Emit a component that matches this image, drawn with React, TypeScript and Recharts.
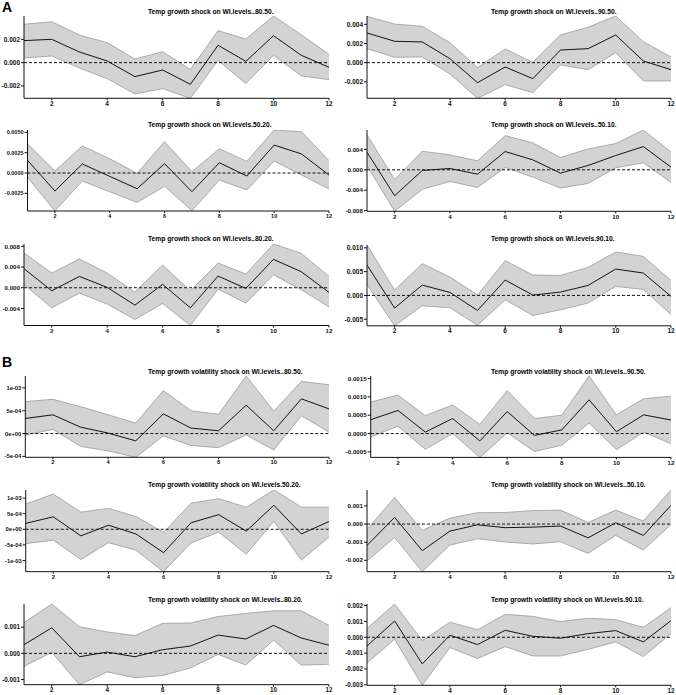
import { Area, ComposedChart, Line, ReferenceLine, XAxis, YAxis } from "recharts";

const steps = [1, 2, 3, 4, 5, 6, 7, 8, 9, 10, 11, 12];
const xTicks = [2, 4, 6, 8, 10, 12];

// A: temp growth shock
const a8050Mean = [0.00189, 0.002, 0.00091, 0.00014, -0.0012, -0.00063, -0.00186, 0.00149, 0.00011, 0.00231, 0.00063, -0.0004];
const a8050Upper = [0.00329, 0.00351, 0.00237, 0.00171, 0.00031, 0.00094, -0.0006, 0.00274, 0.00203, 0.004, 0.0024, 0.00071];
const a8050Lower = [0.0004, 0.00057, -0.00046, -0.00137, -0.00269, -0.00223, -0.00306, 0.0002, -0.0018, 0.00063, -0.00114, -0.00146];

const a9050Mean = [0.0031, 0.00223, 0.00216, 0.00042, -0.00209, -0.00045, -0.00167, 0.00132, 0.00146, 0.00289, 0.00017, -0.00073];
const a9050Upper = [0.00483, 0.00403, 0.00379, 0.00209, -0.00052, 0.00143, 0.00003, 0.00289, 0.00369, 0.00487, 0.00219, 0.00059];
const a9050Lower = [0.00146, 0.00056, 0.00059, -0.00118, -0.00372, -0.0023, -0.00313, -0.00024, -0.00073, 0.00104, -0.00191, -0.00191];

const a5020Mean = [0.00156, -0.00221, 0.00111, -0.00041, -0.00193, 0.00115, -0.0023, 0.00127, -0.00037, 0.00344, 0.00234, -0.00025];
const a5020Upper = [0.0036, 0.00025, 0.00332, 0.00176, -0.00004, 0.00385, 0.00016, 0.00299, 0.00143, 0.00529, 0.00508, 0.00152];
const a5020Lower = [-0.00053, -0.00467, -0.00098, -0.0023, -0.00361, -0.00164, -0.00463, -0.00086, -0.00209, 0.00148, -0.00025, -0.00197];

const a5010Mean = [0.00345, -0.00507, -0.00013, 0.00026, -0.00085, 0.00358, 0.00195, -0.00065, 0.00085, 0.0028, 0.00455, 0.00052];
const a5010Upper = [0.00683, -0.00189, 0.00364, 0.00293, 0.00176, 0.0067, 0.00527, 0.00241, 0.0041, 0.00514, 0.0078, 0.00351];
const a5010Lower = [0.00085, -0.00813, -0.00384, -0.00228, -0.00345, 0.00046, -0.00143, -0.00358, -0.00267, 0.00039, 0.00137, -0.00247];

const a8020Mean = [0.00368, -0.00058, 0.00219, 0.00006, -0.00335, 0.00065, -0.00387, 0.00226, -0.00013, 0.00548, 0.0031, -0.0009];
const a8020Upper = [0.00671, 0.00284, 0.00555, 0.00284, -0.00084, 0.00439, -0.00058, 0.00477, 0.00265, 0.00845, 0.00665, 0.00219];
const a8020Lower = [0.00065, -0.00387, -0.00103, -0.00316, -0.00613, -0.00303, -0.00729, -0.00026, -0.00297, 0.00252, -0.00039, -0.00368];

const a9010Mean = [0.00638, -0.00266, 0.00217, 0.00063, -0.00316, 0.00323, 0.00007, 0.0007, 0.0021, 0.00554, 0.0047, -0.00021];
const a9010Upper = [0.01059, 0.00112, 0.00666, 0.00386, 0.00007, 0.00729, 0.00428, 0.00421, 0.00589, 0.00912, 0.0082, 0.00316];
const a9010Lower = [0.00231, -0.00638, -0.00217, -0.00259, -0.00624, -0.00091, -0.00421, -0.00302, -0.00161, 0.00189, 0.00126, -0.004];

// B: temp growth volatility shock
const b8050Mean = [0.00033, 0.00041, 0.00014, 0.00001, -0.00016, 0.00043, 0.00012, 0.00006, 0.00062, 0.00006, 0.00076, 0.00054];
const b8050Upper = [0.0007, 0.00075, 0.00059, 0.00041, 0.00023, 0.00094, 0.0005, 0.00042, 0.00126, 0.00049, 0.00114, 0.00107];
const b8050Lower = [-0.00003, 0.00009, -0.00028, -0.00038, -0.00052, -0.00005, -0.00026, -0.00031, -0.00003, -0.00036, 0.00039, 0.00003];

const b9050Mean = [0.00038, 0.00063, 0.00004, 0.00041, -0.0002, 0.0006, -0.00005, 0.0001, 0.00092, 0.00005, 0.00051, 0.00037];
const b9050Upper = [0.00086, 0.00105, 0.00049, 0.00078, 0.00025, 0.00117, 0.00041, 0.0005, 0.00157, 0.00051, 0.00095, 0.00102];
const b9050Lower = [-0.00009, 0.0002, -0.00043, 0, -0.00065, 0.00002, -0.00049, -0.00032, 0.00029, -0.00044, 0.00004, -0.00028];

const b5020Mean = [0.00019, 0.0004, -0.00021, 0.00013, -0.00015, -0.00075, 0.00021, 0.00047, -0.00006, 0.00077, -0.00015, 0.00025];
const b5020Upper = [0.00081, 0.00113, 0.00055, 0.00067, 0.00041, -0.0001, 0.00084, 0.00098, 0.00071, 0.00126, 0.00071, 0.00071];
const b5020Lower = [-0.00046, -0.00035, -0.00097, -0.00043, -0.00067, -0.00136, -0.00044, -0.00009, -0.0008, 0.00026, -0.00099, -0.00025];

const b5010Mean = [-0.00118, 0.00037, -0.00147, -0.00039, -0.00004, -0.0002, -0.00017, -0.00011, -0.00076, 0.00007, -0.00063, 0.00103];
const b5010Upper = [-0.0003, 0.00147, -0.00035, 0.00033, 0.00063, 0.00064, 0.00074, 0.00077, 0.00009, 0.00077, 0.00017, 0.00188];
const b5010Lower = [-0.00203, -0.00074, -0.00263, -0.00116, -0.00081, -0.00099, -0.0011, -0.00098, -0.00162, -0.00063, -0.00144, -0.00002];

const b8020Mean = [0.00033, 0.00098, -0.00013, 0.00005, -0.00013, 0.00014, 0.00028, 0.0007, 0.00055, 0.00107, 0.00059, 0.00031];
const b8020Upper = [0.00118, 0.00189, 0.00102, 0.00082, 0.00068, 0.00115, 0.00116, 0.00141, 0.00153, 0.00163, 0.00163, 0.00107];
const b8020Lower = [-0.0005, 0.00004, -0.0012, -0.00071, -0.00093, -0.00085, -0.00056, -0.00004, -0.00045, 0.00051, -0.00045, -0.00042];

const b9010Mean = [-0.00055, 0.00103, -0.00168, 0.00013, -0.00046, 0.00044, 0.00006, -0.00006, 0.00023, 0.00042, -0.00029, 0.00105];
const b9010Upper = [0.00055, 0.0021, -0.00021, 0.00095, 0.00048, 0.00145, 0.00132, 0.00099, 0.0012, 0.00111, 0.00063, 0.00187];
const b9010Lower = [-0.00162, -0.00013, -0.00303, -0.00065, -0.00134, -0.00059, -0.00118, -0.00118, -0.00076, -0.00029, -0.00122, 0.00023];

// y tick values and labels
const ticks3a = [-0.002, 0, 0.002];
const labels3a = ["-0.002", "0.000", "0.002"];
const ticks3b = [-0.002, 0, 0.002, 0.004];
const labels3b = ["-0.002", "0.000", "0.002", "0.004"];
const ticks4a = [-0.0025, 0, 0.0025, 0.005];
const labels4a = ["-0.0025", "0.0000", "0.0025", "0.0050"];
const ticks3c = [-0.008, -0.004, 0, 0.004];
const labels3c = ["-0.008", "-0.004", "0.000", "0.004"];
const ticks3d = [-0.004, 0, 0.004, 0.008];
const labels3d = ["-0.004", "0.000", "0.004", "0.008"];
const ticks3e = [-0.005, 0, 0.005, 0.01];
const labels3e = ["-0.005", "0.000", "0.005", "0.010"];
const ticksSciA = [-0.0005, 0, 0.0005, 0.001];
const labelsSciA = ["-5e-04", "0e+00", "5e-04", "1e-03"];
const ticks4b = [-0.0005, 0, 0.0005, 0.001, 0.0015];
const labels4b = ["-0.0005", "0.0000", "0.0005", "0.0010", "0.0015"];
const ticksSciB = [-0.001, -0.0005, 0, 0.0005, 0.001];
const labelsSciB = ["-1e-03", "-5e-04", "0e+00", "5e-04", "1e-03"];
const ticks3f = [-0.002, -0.001, 0, 0.001];
const labels3f = ["-0.002", "-0.001", "0.000", "0.001"];
const ticks3g = [-0.001, 0, 0.001];
const labels3g = ["-0.001", "0.000", "0.001"];
const ticks3h = [-0.003, -0.002, -0.001, 0, 0.001, 0.002];
const labels3h = ["-0.003", "-0.002", "-0.001", "0.000", "0.001", "0.002"];

const FONT = "'Liberation Sans', Arial, sans-serif";

interface PanelDef {
  title: string;
  mean: number[];
  upper: number[];
  lower: number[];
  ticks: number[];
  labels: string[];
  col: number;
  yW: number;
  top: number;
  bottom: number;
  titleY: number;
  fs: number;
}

const panels: PanelDef[] = [
  { title: "Temp growth shock on WI.levels..80.50.", mean: a8050Mean, upper: a8050Upper, lower: a8050Lower, ticks: ticks3a, labels: labels3a, col: 0, yW: 24, top: 16, bottom: 98.3, titleY: 12, fs: 6.5 },
  { title: "Temp growth shock on WI.levels..90.50.", mean: a9050Mean, upper: a9050Upper, lower: a9050Lower, ticks: ticks3b, labels: labels3b, col: 1, yW: 29, top: 16, bottom: 98.3, titleY: 12, fs: 6.5 },
  { title: "Temp growth shock on WI.levels.50.20.", mean: a5020Mean, upper: a5020Upper, lower: a5020Lower, ticks: ticks4a, labels: labels4a, col: 0, yW: 27.5, top: 130.3, bottom: 211.3, titleY: 125, fs: 5.5 },
  { title: "Temp growth shock on WI.levels..50.10.", mean: a5010Mean, upper: a5010Upper, lower: a5010Lower, ticks: ticks3c, labels: labels3c, col: 1, yW: 29, top: 130, bottom: 211.3, titleY: 125, fs: 6.2 },
  { title: "Temp growth shock on WI.levels..80.20.", mean: a8020Mean, upper: a8020Upper, lower: a8020Lower, ticks: ticks3d, labels: labels3d, col: 0, yW: 24, top: 243.5, bottom: 325, titleY: 239, fs: 6.2 },
  { title: "Temp growth shock on WI.levels.90.10.", mean: a9010Mean, upper: a9010Upper, lower: a9010Lower, ticks: ticks3e, labels: labels3e, col: 1, yW: 29, top: 244.5, bottom: 325.3, titleY: 239, fs: 6.5 },
  { title: "Temp growth volatility shock on WI.levels..80.50.", mean: b8050Mean, upper: b8050Upper, lower: b8050Lower, ticks: ticksSciA, labels: labelsSciA, col: 0, yW: 25.3, top: 376, bottom: 457.3, titleY: 372, fs: 5.8 },
  { title: "Temp growth volatility shock on WI.levels..90.50.", mean: b9050Mean, upper: b9050Upper, lower: b9050Lower, ticks: ticks4b, labels: labels4b, col: 1, yW: 32.7, top: 376.3, bottom: 457.7, titleY: 372, fs: 6.2 },
  { title: "Temp growth volatility shock on WI.levels.50.20.", mean: b5020Mean, upper: b5020Upper, lower: b5020Lower, ticks: ticksSciB, labels: labelsSciB, col: 0, yW: 25.7, top: 490, bottom: 571.7, titleY: 485, fs: 5.8 },
  { title: "Temp growth volatility shock on WI.levels..50.10.", mean: b5010Mean, upper: b5010Upper, lower: b5010Lower, ticks: ticks3f, labels: labels3f, col: 1, yW: 29, top: 490, bottom: 571.7, titleY: 485, fs: 6.2 },
  { title: "Temp growth volatility shock on WI.levels..80.20.", mean: b8020Mean, upper: b8020Upper, lower: b8020Lower, ticks: ticks3g, labels: labels3g, col: 0, yW: 24, top: 604.3, bottom: 685, titleY: 600, fs: 6.3 },
  { title: "Temp growth volatility shock on WI.levels.90.10.", mean: b9010Mean, upper: b9010Upper, lower: b9010Lower, ticks: ticks3h, labels: labels3h, col: 1, yW: 29, top: 604, bottom: 685.3, titleY: 600, fs: 6.3 },
];

const PAD_TOP = 5;

const Panel = ({ p }: { p: PanelDef }) => {
  const data = steps.map((s, i) => ({ x: s, mean: p.mean[i], band: [p.lower[i], p.upper[i]] }));
  const yMin = Math.min(...p.lower);
  const yMax = Math.max(...p.upper);
  // right column charts start a little further left so long tick labels are not clipped
  const shift = p.col === 0 ? 0 : 10;
  const left = p.col === 0 ? 0 : 338 - shift;
  const width = p.col === 0 ? 338 : 338 + shift;
  const rightM = p.col === 0 ? 9 : 5;
  const plotH = p.bottom - p.top;
  const tickStyle = { fontSize: p.fs, fill: "#111", fontWeight: "bold" as const, fontFamily: FONT };
  return (
    <>
      <div
        style={{
          position: "absolute",
          left: p.col === 0 ? 148 : 491,
          top: p.titleY - 4,
          fontSize: 6.7,
          lineHeight: "8px",
          fontWeight: "bold",
          fontFamily: FONT,
          whiteSpace: "nowrap",
          color: "#000",
        }}
      >
        {p.title}
      </div>
      <div style={{ position: "absolute", left, top: p.top - PAD_TOP }}>
        <ComposedChart
          width={width}
          height={plotH + 14 + PAD_TOP}
          data={data}
          margin={{ top: PAD_TOP, right: rightM, bottom: 0, left: 0 }}
        >
          <XAxis
            dataKey="x"
            type="number"
            domain={[1, 12]}
            ticks={xTicks}
            allowDataOverflow
            height={14}
            tickSize={2}
            tickMargin={1}
            tick={tickStyle}
            stroke="#111"
            interval={0}
          />
          <YAxis
            type="number"
            domain={[yMin, yMax]}
            allowDataOverflow
            ticks={p.ticks}
            tickFormatter={(v: number) => p.labels[p.ticks.indexOf(v)] ?? ""}
            width={p.yW + shift}
            tickSize={3}
            tickMargin={1}
            tick={tickStyle}
            stroke="#111"
            interval={0}
          />
          <Area
            type="linear"
            dataKey="band"
            fill="#d3d3d3"
            fillOpacity={1}
            stroke="#9a9a9a"
            strokeWidth={0.8}
            dot={false}
            activeDot={false}
            isAnimationActive={false}
          />
          <ReferenceLine y={0} stroke="#111" strokeDasharray="3 2" strokeWidth={1} />
          <Line
            type="linear"
            dataKey="mean"
            stroke="#111"
            strokeWidth={1}
            dot={false}
            activeDot={false}
            isAnimationActive={false}
          />
        </ComposedChart>
      </div>
    </>
  );
};

export default function App() {
  return (
    <div
      style={{
        position: "absolute",
        left: 0,
        top: 0,
        width: 676,
        height: 695,
        background: "#fff",
        fontFamily: FONT,
      }}
    >
      <div style={{ position: "absolute", left: 2, top: 0, fontSize: 14, lineHeight: "14px", fontWeight: "bold" }}>A</div>
      <div style={{ position: "absolute", left: 2, top: 355, fontSize: 14, lineHeight: "14px", fontWeight: "bold" }}>B</div>
      {panels.map((p) => (
        <Panel key={p.title + p.col} p={p} />
      ))}
    </div>
  );
}
